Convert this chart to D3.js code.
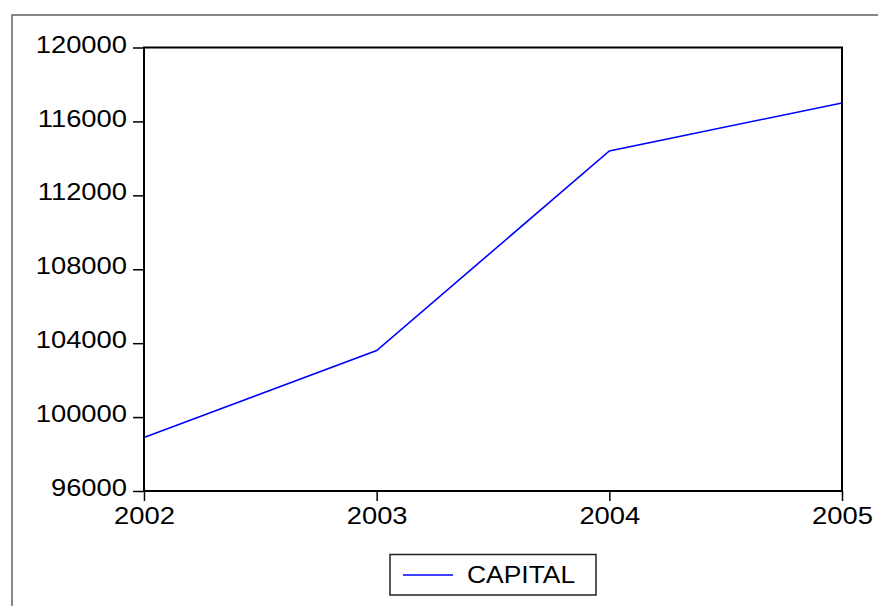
<!DOCTYPE html>
<html>
<head>
<meta charset="utf-8">
<script src="https://cdn.jsdelivr.net/npm/d3@7"></script>
<style>
  body { margin: 0; background: #fff; }
  svg { display: block; }
</style>
</head>
<body>
<div id="chart"></div>
<script>
  // values
  const years = [2002, 2003, 2004, 2005];
  const capital = [98900, 103600, 114400, 117000];
  const yTicks = [96000, 100000, 104000, 108000, 112000, 116000, 120000];
  const seriesName = "CAPITAL";

  const width = 878, height = 606;
  const plot = { left: 144, right: 842, top: 47.5, bottom: 491 };
  const stretch = 1.19; // labels in the reference are drawn wide
  const font = "'Liberation Sans', Arial, sans-serif";

  const svg = d3.select("#chart").append("svg")
    .attr("width", width)
    .attr("height", height);

  // outer frame (runs off the right and bottom edge)
  svg.append("rect")
    .attr("x", 12).attr("y", 15)
    .attr("width", 1000).attr("height", 1000)
    .attr("fill", "none")
    .attr("stroke", "#555")
    .attr("stroke-width", 1.4);

  const x = d3.scaleLinear().domain([2002, 2005]).range([plot.left, plot.right]);
  const y = d3.scaleLinear().domain([96000, 120000]).range([plot.bottom, plot.top]);

  // y axis
  const yAxis = svg.append("g")
    .attr("transform", `translate(${plot.left},0)`)
    .call(d3.axisLeft(y).tickValues(yTicks).tickFormat(d3.format("d")).tickSize(11).tickPadding(6));
  yAxis.select(".domain").remove();
  yAxis.selectAll("line").attr("stroke", "#000").attr("stroke-width", 1.5);
  yAxis.selectAll("text")
    .attr("x", -17 / stretch)
    .attr("dy", "0.2em")
    .attr("transform", `scale(${stretch},1)`)
    .style("font-family", font)
    .style("font-size", "23px")
    .attr("fill", "#000");

  // x axis
  const xAxis = svg.append("g")
    .attr("transform", `translate(0,${plot.bottom})`)
    .call(d3.axisBottom(x).tickValues(years).tickFormat(d3.format("d")).tickSize(10).tickPadding(7));
  xAxis.select(".domain").remove();
  xAxis.selectAll("line").attr("stroke", "#000").attr("stroke-width", 1.5);
  xAxis.selectAll("text")
    .attr("transform", `scale(${stretch},1)`)
    .style("font-family", font)
    .style("font-size", "23px")
    .attr("fill", "#000");

  // data line
  const line = d3.line()
    .x((d, i) => x(years[i]))
    .y(d => y(d));

  svg.append("path")
    .datum(capital)
    .attr("fill", "none")
    .attr("stroke", "#0000ff")
    .attr("stroke-width", 1.6)
    .attr("d", line);

  // plot frame
  svg.append("rect")
    .attr("x", plot.left).attr("y", plot.top)
    .attr("width", plot.right - plot.left)
    .attr("height", plot.bottom - plot.top)
    .attr("fill", "none")
    .attr("stroke", "#000")
    .attr("stroke-width", 2);

  // legend
  const legendStretch = 1.15;
  const legend = svg.append("g");
  legend.append("rect")
    .attr("x", 390).attr("y", 554.5)
    .attr("width", 206).attr("height", 40.5)
    .attr("fill", "#fff")
    .attr("stroke", "#222")
    .attr("stroke-width", 1.5);
  legend.append("line")
    .attr("x1", 403).attr("x2", 453)
    .attr("y1", 575).attr("y2", 575)
    .attr("stroke", "#0000ff")
    .attr("stroke-width", 1.4);
  legend.append("text")
    .attr("x", 467 / legendStretch).attr("y", 583.5)
    .attr("transform", `scale(${legendStretch},1)`)
    .style("font-family", font)
    .style("font-size", "23px")
    .attr("fill", "#000")
    .text(seriesName);
</script>
</body>
</html>
